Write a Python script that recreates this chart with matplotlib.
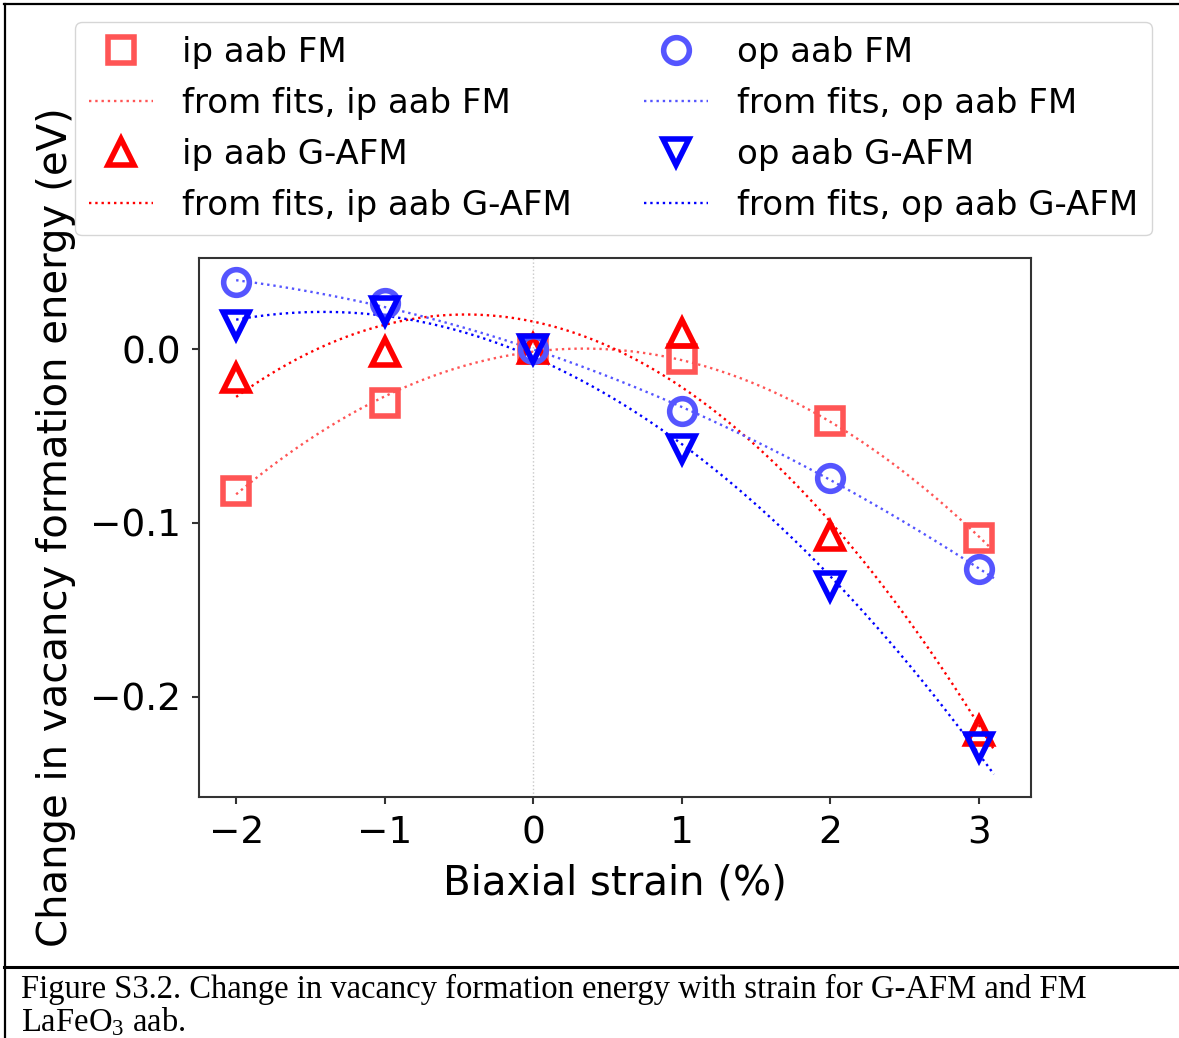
"""Vacancy formation energy vs biaxial strain, LaFeO3 aab (FM / G-AFM)
"""
import numpy as np
import matplotlib.pyplot as plt
from matplotlib.lines import Line2D

plt.rcParams['mathtext.default'] = 'regular'

# data (eV, relative to 0 % strain)
strain = [-2, -1, 0, 1, 2, 3]
ip_fm = [-0.0816, -0.0313, 0.0, -0.0055, -0.0414, -0.1086]
ip_gafm = [-0.0165, -0.0018, 0.0, 0.0095, -0.1072, -0.2195]
op_fm = [0.0385, 0.0262, 0.0, -0.0357, -0.0741, -0.1262]
op_gafm = [0.0140, 0.0220, 0.0, -0.0575, -0.1365, -0.2290]

labels = ['ip aab FM', 'ip aab G-AFM', 'op aab FM', 'op aab G-AFM']
xticks = [-2, -1, 0, 1, 2, 3]
yticks = [0.0, -0.1, -0.2]

caption_1 = 'Figure S3.2. Change in vacancy formation energy with strain for G-AFM and FM'
caption_2 = r'LaFeO$_{3}$ aab.'


def main():
    fig = plt.figure(figsize=(11.79, 10.38), dpi=100)
    ax = fig.add_axes([0.1688, 0.2322, 0.7057, 0.5192])

    series = [
        (ip_fm, 's', '#ff5555', '#ff5555'),
        (ip_gafm, '^', 'red', 'red'),
        (op_fm, 'o', '#5555ff', '#5555ff'),
        (op_gafm, 'v', 'blue', 'blue'),
    ]

    ax.axvline(0, color='#c8c8c8', lw=1.0, ls=':', zorder=0)

    x = np.array(strain, dtype=float)
    xfit = np.linspace(-2, 3.1, 200)
    handles = []
    for (vals, mk, mcol, lcol), lab in zip(series, labels):
        h1, = ax.plot(x, vals, ls='none', marker=mk, ms=18.5, mew=4.0,
                      mfc='none', mec=mcol, label=lab, zorder=3)
        coef = np.polyfit(x, vals, 2)
        h2, = ax.plot(xfit, np.polyval(coef, xfit), ls=':', lw=1.7,
                      color=lcol, label='from fits, ' + lab, zorder=2)
        handles += [h1, h2]

    ax.set_xlim(-2.25, 3.35)
    ax.set_ylim(-0.2575, 0.0523)
    ax.set_xticks(xticks)
    ax.set_yticks(yticks)
    ax.tick_params(labelsize=27, length=5, width=1.5, pad=8, color='#333333')
    for s in ax.spines.values():
        s.set_linewidth(1.5)
        s.set_color('#333333')

    ax.set_xlabel('Biaxial strain (%)', fontsize=29, labelpad=9)
    ax.set_ylabel('Change in vacancy formation energy (eV)', fontsize=29,
                  labelpad=10)

    fig.legend(handles=handles, ncol=2, loc='upper left',
               bbox_to_anchor=(0.0636, 0.9788), borderaxespad=0,
               fontsize=24.5, labelspacing=0.53, handlelength=1.9,
               handletextpad=0.85, columnspacing=2.1, frameon=True)

    # page borders and caption
    fig.add_artist(Line2D([0.003, 1.0], [0.9961, 0.9961], color='black',
                          lw=1.6, transform=fig.transFigure))
    fig.add_artist(Line2D([0.0045, 0.0045], [0.0, 0.9961], color='black',
                          lw=1.6, transform=fig.transFigure))
    fig.add_artist(Line2D([0.003, 1.0], [0.0687, 0.0687], color='black',
                          lw=2.2, transform=fig.transFigure))
    fig.text(21 / 1179, 1 - 998 / 1038, caption_1, family='Liberation Serif',
             fontsize=23.5, va='baseline', ha='left')
    fig.text(21 / 1179, 1 - 1031 / 1038, caption_2, family='Liberation Serif',
             fontsize=23.5, va='baseline', ha='left')

    fig.savefig('out.png', dpi=100)
    plt.close(fig)


if __name__ == '__main__':
    main()
